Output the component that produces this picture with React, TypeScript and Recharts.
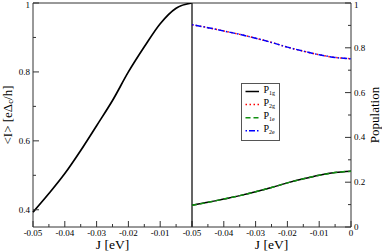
import { LineChart, Line, XAxis, YAxis, ReferenceArea, Legend } from "recharts"

// J [eV] sample points, shared by both panels
const jValues = [-0.05, -0.045, -0.04, -0.035, -0.03, -0.025, -0.02, -0.015, -0.01, -0.005, 0]
// left panel: <I> in units of e*Delta_c/h
const currentI = [0.393, 0.447, 0.505, 0.572, 0.644, 0.717, 0.8, 0.873, 0.94, 0.985, 1.0]
// right panel: populations
const p1g = [0.097, 0.11, 0.125, 0.14, 0.157, 0.176, 0.197, 0.215, 0.231, 0.243, 0.249]
const p2g = [0.903, 0.89, 0.875, 0.86, 0.843, 0.824, 0.803, 0.785, 0.769, 0.757, 0.751]
const p1e = [0.097, 0.11, 0.125, 0.14, 0.157, 0.176, 0.197, 0.215, 0.231, 0.243, 0.249]
const p2e = [0.903, 0.89, 0.875, 0.86, 0.843, 0.824, 0.803, 0.785, 0.769, 0.757, 0.751]

const jTicks = [-0.05, -0.045, -0.04, -0.035, -0.03, -0.025, -0.02, -0.015, -0.01, -0.005, 0]
const iTicks = [0.4, 0.5, 0.6, 0.7, 0.8, 0.9, 1]
const popTicks = [0, 0.1, 0.2, 0.3, 0.4, 0.5, 0.6, 0.7, 0.8, 0.9, 1]

const legendItems = [
  { key: "p1g", sub: "1g", color: "#000000", dash: undefined },
  { key: "p2g", sub: "2g", color: "#ff0000", dash: "1.5 2.5" },
  { key: "p1e", sub: "1e", color: "#119011", dash: "5 3" },
  { key: "p2e", sub: "2e", color: "#0000ff", dash: "1.5 2 6 2" },
]

const leftData = jValues.map((j, i) => ({ j, current: currentI[i] }))
const rightData = jValues.map((j, i) => ({ j, p1g: p1g[i], p2g: p2g[i], p1e: p1e[i], p2e: p2e[i] }))

const FONT = "'Liberation Serif', 'DejaVu Serif', serif"
const AXIS = "#333"

const isMult = (v: number, step: number) => Math.abs(v / step - Math.round(v / step)) < 1e-6
const fmt = (v: number) => (Math.abs(v) < 1e-9 ? "0" : Math.abs(v - 1) < 1e-9 ? "1" : String(+v.toFixed(2)))

function XTick({ x, y, payload, hideZero }: any) {
  const v = payload.value
  const major = isMult(v, 0.01)
  return (
    <g>
      <line x1={x} y1={y} x2={x} y2={y - (major ? 6 : 3)} stroke={AXIS} />
      {major && !(hideZero && Math.abs(v) < 1e-9) && (
        <text x={x} y={y + 8.5} textAnchor="middle" fontSize={9} fontFamily={FONT} fill="#000">
          {fmt(v)}
        </text>
      )}
    </g>
  )
}

// side: "left" -> ticks point right into the plot; "right" -> ticks point left
function YTick({ x, y, payload, side, labels }: any) {
  const v = payload.value
  const major = isMult(v, 0.2) || Math.abs(v - 1) < 1e-9 || Math.abs(v - 0.4) < 1e-9
  const len = major ? 6 : 3
  const dir = side === "left" ? 1 : -1
  const top = Math.abs(v - 1) < 1e-9
  return (
    <g>
      <line x1={x} y1={y} x2={x + dir * len} y2={y} stroke={AXIS} />
      {labels && major && (
        <text
          x={side === "left" ? x - 3 : x + 3}
          y={y + (top ? 4.5 : 3)}
          textAnchor={side === "left" ? "end" : "start"}
          fontSize={9}
          fontFamily={FONT}
          fill="#000"
        >
          {fmt(v)}
        </text>
      )}
    </g>
  )
}

function CurrentLabel({ viewBox }: any) {
  const cx = viewBox.x + 7
  const cy = viewBox.y + viewBox.height / 2
  return (
    <text
      x={cx}
      y={cy}
      transform={`rotate(-90 ${cx} ${cy})`}
      textAnchor="middle"
      dominantBaseline="central"
      fontSize={13}
      fontFamily={FONT}
      fill="#000"
    >
      {"<I> [eΔ"}
      <tspan fontSize={8.5} dy={3}>c</tspan>
      <tspan dy={-3}>{"/h]"}</tspan>
    </text>
  )
}

function PopLabel({ viewBox }: any) {
  const cx = viewBox.x + 23
  const cy = viewBox.y + viewBox.height / 2
  return (
    <text
      x={cx}
      y={cy}
      transform={`rotate(-90 ${cx} ${cy})`}
      textAnchor="middle"
      dominantBaseline="central"
      fontSize={13}
      fontFamily={FONT}
      fill="#000"
    >
      Population
    </text>
  )
}

function JLabel({ viewBox }: any) {
  return (
    <text
      x={viewBox.x + viewBox.width / 2}
      y={viewBox.y + 21.5}
      textAnchor="middle"
      fontSize={13.5}
      fontFamily={FONT}
      fill="#000"
    >
      J [eV]
    </text>
  )
}

function PopLegend() {
  return (
    <svg width={39} height={58} style={{ display: "block" }}>
      <rect x={0.5} y={0.5} width={38} height={57} fill="#fff" stroke="#555" />
      {legendItems.map((it, i) => {
        const base = 10 + 13.1 * i
        return (
          <g key={it.key}>
            <line x1={4.5} x2={18} y1={base - 1.5} y2={base - 1.5} stroke={it.color} strokeWidth={1.5} strokeDasharray={it.dash} />
            <text x={22.5} y={base} fontSize={10} fontFamily={FONT} fill="#000">
              P<tspan fontSize={6} dy={2}>{it.sub}</tspan>
            </text>
          </g>
        )
      })}
    </svg>
  )
}

export default function App() {
  return (
    <div style={{ position: "absolute", left: 0, top: 0, width: 382, height: 252, background: "#fff" }}>
      <style>{"svg.recharts-surface{overflow:visible}"}</style>
      <div style={{ position: "absolute", left: 0, top: 0 }}>
        <LineChart width={192} height={252} data={leftData} margin={{ top: 3, right: 0, bottom: 0, left: 0 }}>
          <XAxis
            dataKey="j"
            type="number"
            domain={[-0.05, 0]}
            ticks={jTicks}
            interval={0}
            height={25}
            tickSize={0}
            tickMargin={0}
            axisLine={false}
            tick={(p: any) => <XTick {...p} hideZero />}
            label={<JLabel />}
          />
          <YAxis
            type="number"
            domain={[0.35, 1]}
            allowDataOverflow
            ticks={iTicks}
            interval={0}
            width={33}
            tickSize={0}
            tickMargin={0}
            axisLine={false}
            tick={(p: any) => <YTick {...p} side="left" labels />}
            label={<CurrentLabel />}
          />
          <ReferenceArea x1={-0.05} x2={0} y1={0.35} y2={1} fill="none" stroke={AXIS} strokeWidth={1} />
          <Line type="monotone" dataKey="current" stroke="#000" strokeWidth={1.7} dot={false} isAnimationActive={false} />
        </LineChart>
      </div>
      <div style={{ position: "absolute", left: 192, top: 0 }}>
        <LineChart width={190} height={252} data={rightData} margin={{ top: 3, right: 0, bottom: 0, left: 0 }}>
          <XAxis
            dataKey="j"
            type="number"
            domain={[-0.05, 0]}
            ticks={jTicks}
            interval={0}
            height={25}
            tickSize={0}
            tickMargin={0}
            axisLine={false}
            tick={(p: any) => <XTick {...p} />}
            label={<JLabel />}
          />
          <YAxis
            yAxisId="mirror"
            orientation="left"
            type="number"
            domain={[0, 1]}
            allowDataOverflow
            ticks={popTicks}
            interval={0}
            width={0}
            tickSize={0}
            tickMargin={0}
            axisLine={false}
            tick={(p: any) => <YTick {...p} side="left" />}
          />
          <YAxis
            yAxisId="pop"
            orientation="right"
            type="number"
            domain={[0, 1]}
            allowDataOverflow
            ticks={popTicks}
            interval={0}
            width={31}
            tickSize={0}
            tickMargin={0}
            axisLine={false}
            tick={(p: any) => <YTick {...p} side="right" labels />}
            label={<PopLabel />}
          />
          <ReferenceArea yAxisId="pop" x1={-0.05} x2={0} y1={0} y2={1} fill="none" stroke={AXIS} strokeWidth={1} />
          {legendItems.map((it) => (
            <Line
              key={it.key}
              yAxisId="pop"
              type="monotone"
              dataKey={it.key}
              stroke={it.color}
              strokeWidth={1.5}
              strokeDasharray={it.dash}
              dot={false}
              isAnimationActive={false}
            />
          ))}
          <Legend
            layout="vertical"
            align="center"
            verticalAlign="middle"
            content={<PopLegend />}
            wrapperStyle={{ left: 49, top: 83, width: 39, height: 58 }}
          />
        </LineChart>
      </div>
    </div>
  )
}
